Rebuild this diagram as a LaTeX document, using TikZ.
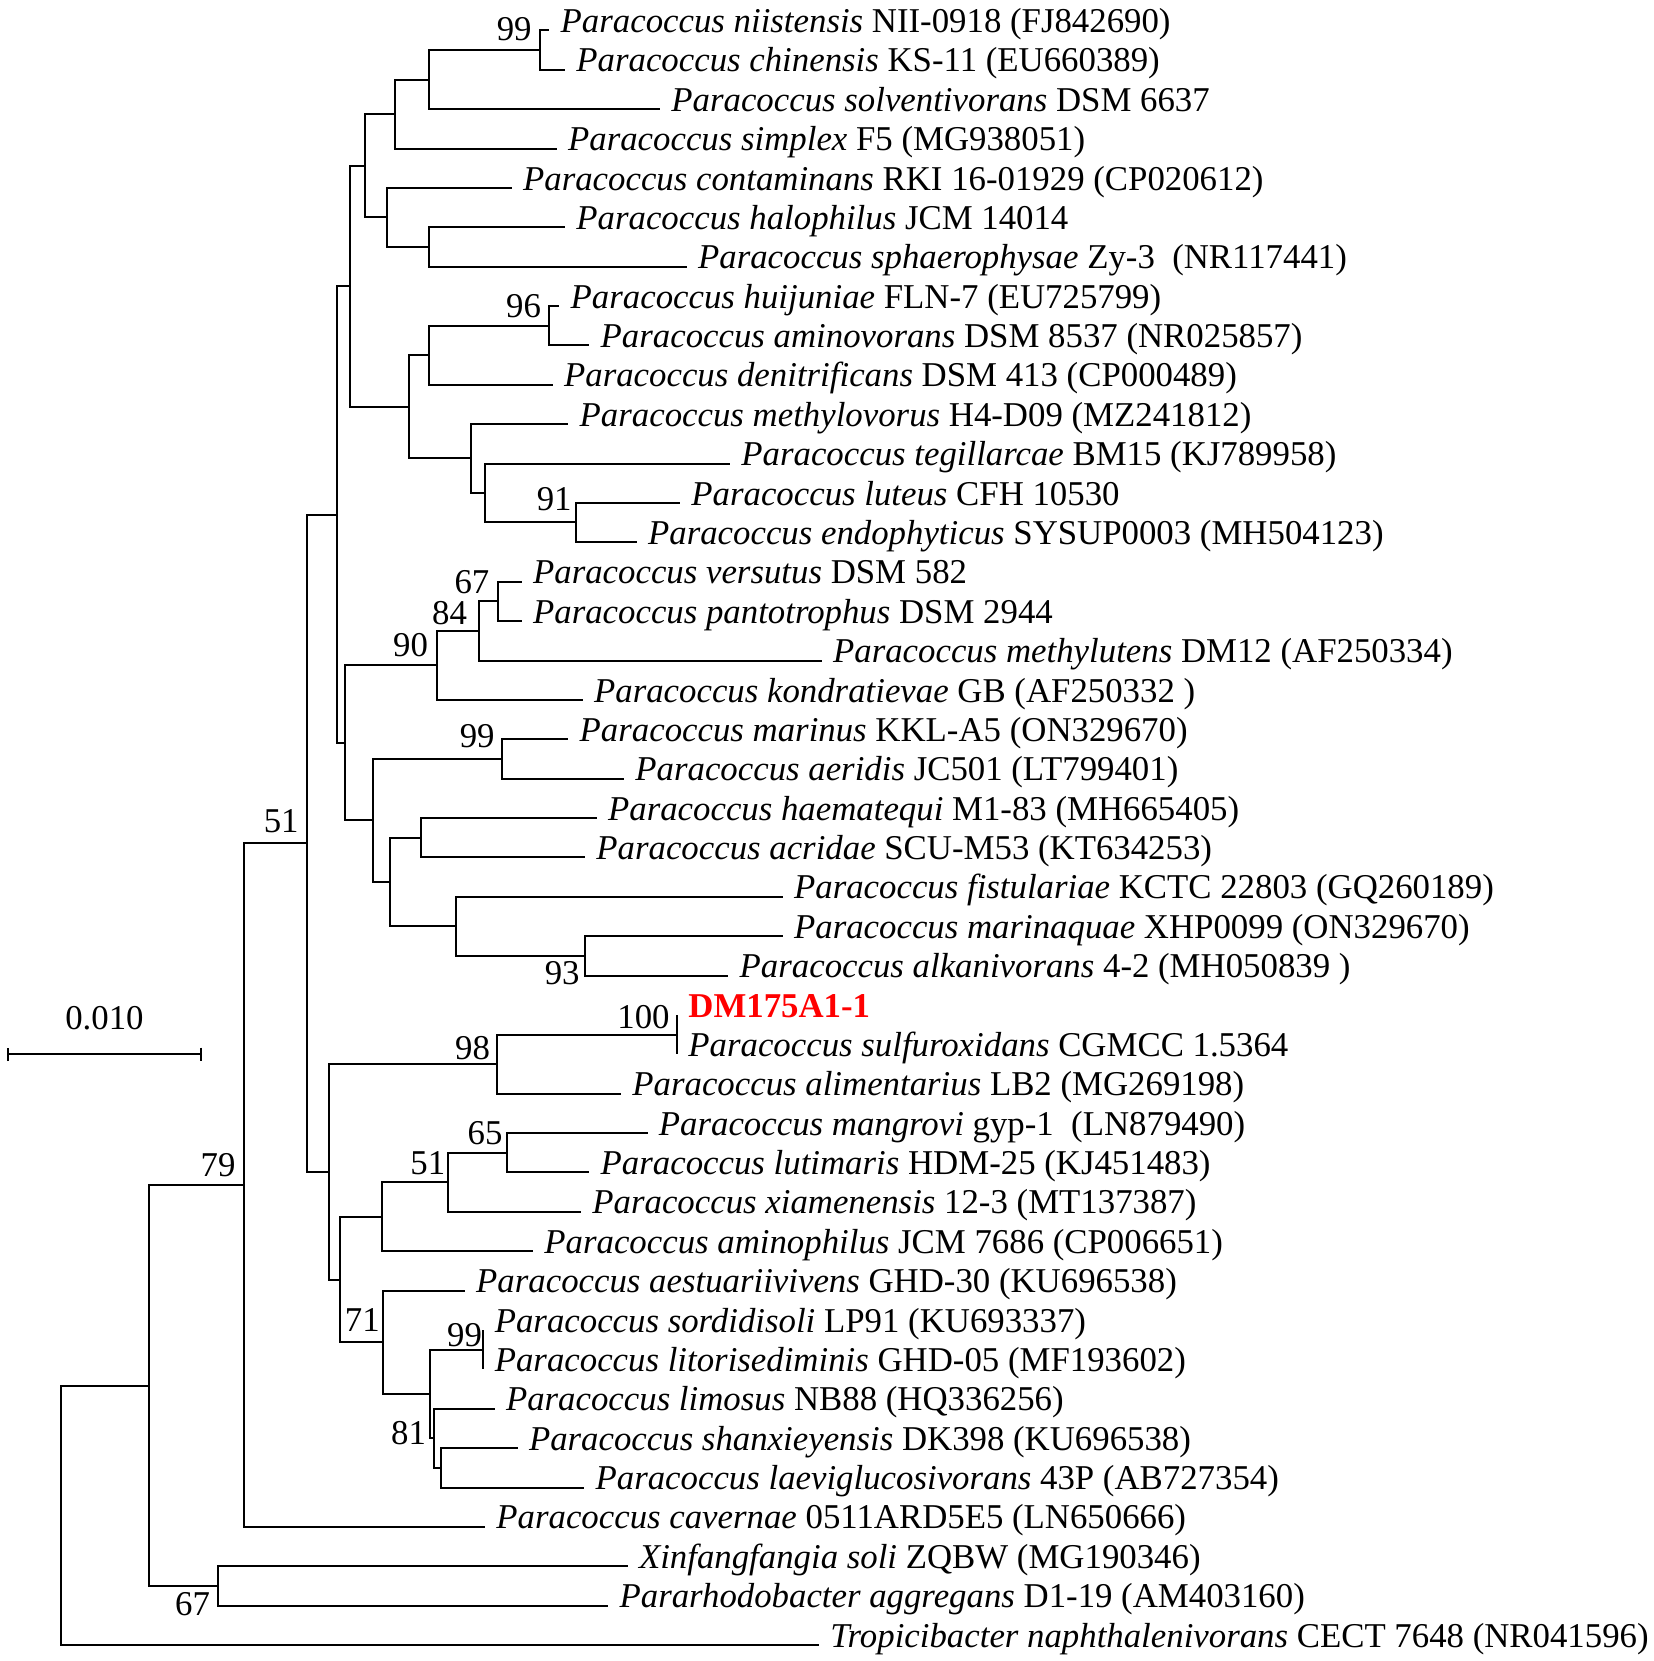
\documentclass[tikz,border=0pt]{standalone}
\usepackage{fontspec}
\setmainfont{Liberation Serif}
\usetikzlibrary{arrows.meta}

\begin{document}
\begin{tikzpicture}[x=0.5pt, y=-0.5pt, font=\fontsize{17.4}{20}\selectfont,
  branch/.style={line width=1pt},
  leaf/.style={anchor=west, inner xsep=5.5pt, inner ysep=0pt, text height=12.2pt, text depth=10.1pt},
  boot/.style={anchor=south east, inner sep=0pt, text depth=0pt}]
\useasboundingbox (0,0) rectangle (1654,1661);

% leaves
\node[leaf] (niis) at (549.3,30.4) {\textit{Paracoccus niistensis} NII-0918 (FJ842690)};
\node[leaf] (chin) at (565,69.8) {\textit{Paracoccus chinensis} KS-11 (EU660389)};
\node[leaf] (solv) at (660,109.2) {\textit{Paracoccus solventivorans} DSM 6637};
\node[leaf] (simp) at (556.7,148.5) {\textit{Paracoccus simplex} F5 (MG938051)};
\node[leaf] (cont) at (511.7,187.9) {\textit{Paracoccus contaminans} RKI 16-01929 (CP020612)};
\node[leaf] (halo) at (565,227.3) {\textit{Paracoccus halophilus} JCM 14014};
\node[leaf] (spha) at (686.7,266.7) {\textit{Paracoccus sphaerophysae} Zy-3~ (NR117441)};
\node[leaf] (huij) at (559.3,306.1) {\textit{Paracoccus huijuniae} FLN-7 (EU725799)};
\node[leaf] (amin) at (589.3,345.4) {\textit{Paracoccus aminovorans} DSM 8537 (NR025857)};
\node[leaf] (deni) at (552.7,384.8) {\textit{Paracoccus denitrificans} DSM 413 (CP000489)};
\node[leaf] (meth) at (568.3,424.2) {\textit{Paracoccus methylovorus} H4-D09 (MZ241812)};
\node[leaf] (tegi) at (730,463.6) {\textit{Paracoccus tegillarcae} BM15 (KJ789958)};
\node[leaf] (lute) at (680,503.0) {\textit{Paracoccus luteus} CFH 10530};
\node[leaf] (endo) at (636.7,542.3) {\textit{Paracoccus endophyticus} SYSUP0003 (MH504123)};
\node[leaf] (vers) at (521.7,581.7) {\textit{Paracoccus versutus} DSM 582};
\node[leaf] (pant) at (521.7,621.1) {\textit{Paracoccus pantotrophus} DSM 2944};
\node[leaf] (mlut) at (821.7,660.5) {\textit{Paracoccus methylutens} DM12 (AF250334)};
\node[leaf] (kond) at (582.7,699.9) {\textit{Paracoccus kondratievae} GB (AF250332 )};
\node[leaf] (mari) at (568.3,739.2) {\textit{Paracoccus marinus} KKL-A5 (ON329670)};
\node[leaf] (aeri) at (624,778.6) {\textit{Paracoccus aeridis} JC501 (LT799401)};
\node[leaf] (haem) at (596.7,818.0) {\textit{Paracoccus haematequi} M1-83 (MH665405)};
\node[leaf] (acri) at (585,857.4) {\textit{Paracoccus acridae} SCU-M53 (KT634253)};
\node[leaf] (fist) at (782.7,896.8) {\textit{Paracoccus fistulariae} KCTC 22803 (GQ260189)};
\node[leaf] (mnaq) at (782.7,936.1) {\textit{Paracoccus marinaquae} XHP0099 (ON329670)};
\node[leaf] (alka) at (728.3,975.5) {\textit{Paracoccus alkanivorans} 4-2 (MH050839 )};
\node[leaf, text=red, font=\fontsize{17.4}{20}\selectfont\bfseries] (dm) at (677,1014.9) {DM175A1-1};
\node[leaf] (sulf) at (677,1054.3) {\textit{Paracoccus sulfuroxidans} CGMCC 1.5364};
\node[leaf] (alim) at (621,1093.7) {\textit{Paracoccus alimentarius} LB2 (MG269198)};
\node[leaf] (mang) at (647.5,1133.0) {\textit{Paracoccus mangrovi} gyp-1~ (LN879490)};
\node[leaf] (luti) at (589.3,1172.4) {\textit{Paracoccus lutimaris} HDM-25 (KJ451483)};
\node[leaf] (xiam) at (581,1211.8) {\textit{Paracoccus xiamenensis} 12-3 (MT137387)};
\node[leaf] (amph) at (533,1251.2) {\textit{Paracoccus aminophilus} JCM 7686 (CP006651)};
\node[leaf] (aest) at (464.8,1290.6) {\textit{Paracoccus aestuariivivens} GHD-30 (KU696538)};
\node[leaf] (sord) at (483.4,1329.9) {\textit{Paracoccus sordidisoli} LP91 (KU693337)};
\node[leaf] (lito) at (483.4,1369.3) {\textit{Paracoccus litorisediminis} GHD-05 (MF193602)};
\node[leaf] (limo) at (494.6,1408.7) {\textit{Paracoccus limosus} NB88 (HQ336256)};
\node[leaf] (shan) at (517.6,1448.1) {\textit{Paracoccus shanxieyensis} DK398 (KU696538)};
\node[leaf] (laev) at (584.2,1487.5) {\textit{Paracoccus laeviglucosivorans} 43P (AB727354)};
\node[leaf] (cave) at (485,1526.8) {\textit{Paracoccus cavernae} 0511ARD5E5 (LN650666)};
\node[leaf] (xinf) at (627.6,1566.2) {\textit{Xinfangfangia soli} ZQBW (MG190346)};
\node[leaf] (parr) at (608.2,1605.6) {\textit{Pararhodobacter aggregans} D1-19 (AM403160)};
\node[leaf] (trop) at (818.9,1645.0) {\textit{Tropicibacter naphthalenivorans} CECT 7648 (NR041596)};

% inner nodes
\coordinate (n99a) at (540,50.1);
\coordinate (nA) at (429.3,79.5);
\coordinate (nB) at (395,114);
\coordinate (nE) at (429.3,246.7);
\coordinate (nD) at (386.7,217);
\coordinate (nC) at (365,165.5);
\coordinate (n96) at (549.3,325.7);
\coordinate (nH) at (429.3,355.2);
\coordinate (n91) at (576,522.2);
\coordinate (nK) at (485,492.7);
\coordinate (nI) at (470.7,458.2);
\coordinate (nG) at (409.3,406.7);
\coordinate (nF) at (350,286.1);
\coordinate (n67) at (497.7,601.4);
\coordinate (n84) at (479.3,631);
\coordinate (n90) at (437.3,665.4);
\coordinate (n99b) at (502,758.9);
\coordinate (nHA) at (421,837.7);
\coordinate (n93) at (585,955.8);
\coordinate (nFi) at (456,926.3);
\coordinate (nX) at (390,882);
\coordinate (nY) at (373.3,820.4);
\coordinate (nZ) at (345,742.9);
\coordinate (nM) at (337,514.5);
\coordinate (n100) at (677,1034.6);
\coordinate (n98) at (497.4,1064.2);
\coordinate (n65) at (506.9,1152.7);
\coordinate (n51b) at (447.6,1182.3);
\coordinate (nAm) at (381.7,1216.7);
\coordinate (n99c) at (483.4,1349.6);
\coordinate (nSL) at (441.3,1467.8);
\coordinate (n81) at (434.3,1438.2);
\coordinate (nP) at (429.7,1393.9);
\coordinate (n71) at (383.1,1342.2);
\coordinate (nQ) at (340.3,1279.5);
\coordinate (nR) at (329.1,1171.9);
\coordinate (n51) at (307,843.2);
\coordinate (n79) at (243.8,1185);
\coordinate (n67b) at (218.3,1585.9);
\coordinate (nS) at (149,1385.5);
\coordinate (root) at (61,1515.2);

% branches
\draw[branch] (n99a) |- (niis.west) (n99a) |- (chin.west);
\draw[branch] (nA) |- (n99a) (nA) |- (solv.west);
\draw[branch] (nB) |- (nA) (nB) |- (simp.west);
\draw[branch] (nE) |- (halo.west) (nE) |- (spha.west);
\draw[branch] (nD) |- (cont.west) (nD) |- (nE);
\draw[branch] (nC) |- (nB) (nC) |- (nD);
\draw[branch] (n96) |- (huij.west) (n96) |- (amin.west);
\draw[branch] (nH) |- (n96) (nH) |- (deni.west);
\draw[branch] (n91) |- (lute.west) (n91) |- (endo.west);
\draw[branch] (nK) |- (tegi.west) (nK) |- (n91);
\draw[branch] (nI) |- (meth.west) (nI) |- (nK);
\draw[branch] (nG) |- (nH) (nG) |- (nI);
\draw[branch] (nF) |- (nC) (nF) |- (nG);
\draw[branch] (n67) |- (vers.west) (n67) |- (pant.west);
\draw[branch] (n84) |- (n67) (n84) |- (mlut.west);
\draw[branch] (n90) |- (n84) (n90) |- (kond.west);
\draw[branch] (n99b) |- (mari.west) (n99b) |- (aeri.west);
\draw[branch] (nHA) |- (haem.west) (nHA) |- (acri.west);
\draw[branch] (n93) |- (mnaq.west) (n93) |- (alka.west);
\draw[branch] (nFi) |- (fist.west) (nFi) |- (n93);
\draw[branch] (nX) |- (nHA) (nX) |- (nFi);
\draw[branch] (nY) |- (n99b) (nY) |- (nX);
\draw[branch] (nZ) |- (n90) (nZ) |- (nY);
\draw[branch] (nM) |- (nF) (nM) |- (nZ);
\draw[branch] (n100) |- (dm.west) (n100) |- (sulf.west);
\draw[branch] (n98) |- (n100) (n98) |- (alim.west);
\draw[branch] (n65) |- (mang.west) (n65) |- (luti.west);
\draw[branch] (n51b) |- (n65) (n51b) |- (xiam.west);
\draw[branch] (nAm) |- (n51b) (nAm) |- (amph.west);
\draw[branch] (n99c) |- (sord.west) (n99c) |- (lito.west);
\draw[branch] (nSL) |- (shan.west) (nSL) |- (laev.west);
\draw[branch] (n81) |- (limo.west) (n81) |- (nSL);
\draw[branch] (nP) |- (n99c) (nP) |- (n81);
\draw[branch] (n71) |- (aest.west) (n71) |- (nP);
\draw[branch] (nQ) |- (nAm) (nQ) |- (n71);
\draw[branch] (nR) |- (n98) (nR) |- (nQ);
\draw[branch] (n51) |- (nM) (n51) |- (nR);
\draw[branch] (n79) |- (n51) (n79) |- (cave.west);
\draw[branch] (n67b) |- (xinf.west) (n67b) |- (parr.west);
\draw[branch] (nS) |- (n79) (nS) |- (n67b);
\draw[branch] (root) |- (nS) (root) |- (trop.west);

% bootstrap values
\node[boot] (b99a) at ([shift={(-8,-9)}]n99a) {99};
\node[boot] (b96) at ([shift={(-8,-8)}]n96) {96};
\node[boot] (b91) at ([shift={(-4,-11)}]n91) {91};
\node[boot] (b67) at ([shift={(-8,-8)}]n67) {67};
\node[boot] (b84) at ([shift={(-12,-6)}]n84) {84};
\node[boot] (b90) at ([shift={(-9,-9)}]n90) {90};
\node[boot] (b99b) at ([shift={(-7,-11)}]n99b) {99};
\node[boot] (b93) at ([shift={(-5,29)}]n93) {93};
\node[boot] (b51) at ([shift={(-8,-10)}]n51) {51};
\node[boot] (b100) at ([shift={(-7,-6)}]n100) {100};
\node[boot] (b98) at ([shift={(-7,-4)}]n98) {98};
\node[boot] (b65) at ([shift={(-4,-8)}]n65) {65};
\node[boot] (b51b) at ([shift={(-2,-7)}]n51b) {51};
\node[boot] (b71) at ([shift={(-3,-10)}]n71) {71};
\node[boot] (b99c) at ([shift={(-1,-3)}]n99c) {99};
\node[boot] (b81) at ([shift={(-8,7)}]n81) {81};
\node[boot] (b79) at ([shift={(-8,-8)}]n79) {79};
\node[boot] (b67b) at ([shift={(-8,30)}]n67b) {67};

% scale bar
\coordinate (sbL) at (7.3,1054.3);
\coordinate (sbR) at (201.7,1054.3);
\draw[branch, {Bar[width=6.7pt]}-{Bar[width=6.7pt]}] (sbL) -- node[above=12pt, inner sep=0pt, text depth=0pt] (sblab) {0.010} (sbR);
\end{tikzpicture}
\end{document}
